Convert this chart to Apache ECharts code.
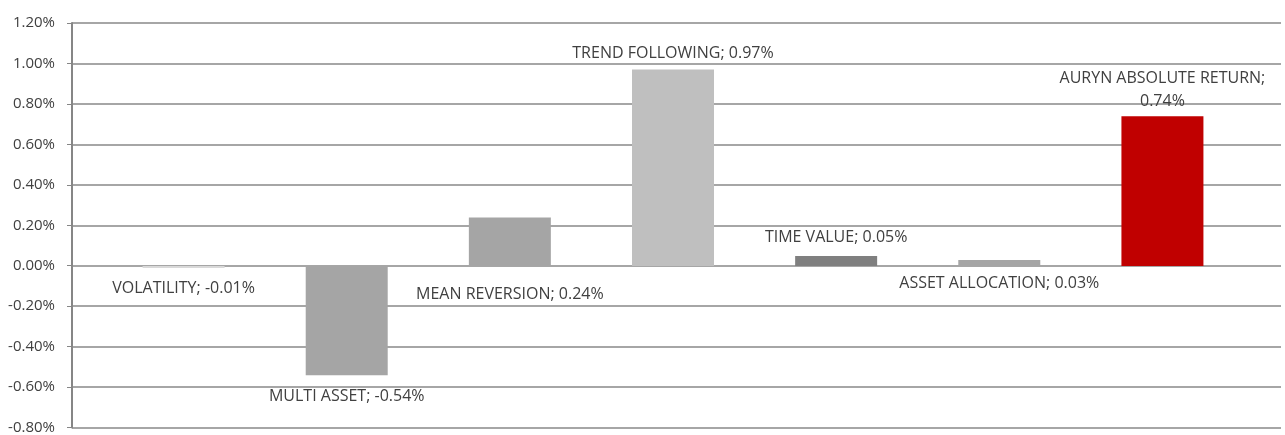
<!DOCTYPE html>
<html>
<head>
<meta charset="utf-8">
<script src="https://cdn.jsdelivr.net/npm/echarts@6/dist/echarts.min.js"></script>
<style>html,body{margin:0;padding:0;background:#fff;}#c{width:1285px;height:435px;}</style>
</head>
<body>
<div id="c"></div>
<script>
const categories = ['VOLATILITY', 'MULTI ASSET', 'MEAN REVERSION', 'TREND FOLLOWING', 'TIME VALUE', 'ASSET ALLOCATION', 'AURYN ABSOLUTE RETURN'];
const values = [-0.01, -0.54, 0.24, 0.97, 0.05, 0.03, 0.74];
const barColors = ['#d9d9d9', '#a5a5a5', '#a5a5a5', '#bfbfbf', '#7f7f7f', '#a5a5a5', '#c00000'];
const labelPositions = ['bottom', 'bottom', 'bottom', 'top', 'top', 'bottom', 'top'];
const labelDistances = [10, 11, 18, 6, 8, 7, 3];
const labelBreaks = [false, false, false, false, false, false, true];
const yTicks = { min: -0.8, max: 1.2, interval: 0.2 };

const font = 'Open Sans';
const textColor = '#404040';

const data = values.map((v, i) => ({
  value: v,
  itemStyle: { color: barColors[i] },
  label: {
    show: true,
    position: labelPositions[i],
    distance: labelDistances[i],
    formatter: categories[i] + ';' + (labelBreaks[i] ? '\n' : ' ') + v.toFixed(2) + '%',
    color: textColor,
    fontFamily: font,
    fontSize: 16,
    lineHeight: labelBreaks[i] ? 23 : 20,
    align: 'center'
  }
}));

const chart = echarts.init(document.getElementById('c'), null, { renderer: 'canvas' });
chart.setOption({
  animation: false,
  backgroundColor: '#ffffff',
  grid: [
    { left: 72, right: 4, top: 23, bottom: 7, containLabel: false },
    { left: 102, right: 41, top: 23, bottom: 7, containLabel: false }
  ],
  xAxis: [
    { gridIndex: 0, type: 'value', min: 0, max: 1, show: false },
    { gridIndex: 1, type: 'category', data: categories, show: false }
  ],
  yAxis: [
    {
      gridIndex: 0, type: 'value', min: yTicks.min, max: yTicks.max, interval: yTicks.interval,
      axisLine: { show: true, lineStyle: { color: '#868686', width: 2 } },
      axisTick: { show: true, length: 5, lineStyle: { color: '#868686', width: 1 } },
      axisLabel: {
        color: textColor, fontFamily: font, fontSize: 15, margin: 17,
        formatter: v => v.toFixed(2) + '%'
      },
      splitLine: { show: true, lineStyle: { color: '#a6a6a6', width: 2 } }
    },
    { gridIndex: 1, type: 'value', min: yTicks.min, max: yTicks.max, interval: yTicks.interval, show: false, splitLine: { show: false } }
  ],
  series: [
    {
      type: 'bar', xAxisIndex: 1, yAxisIndex: 1,
      data: data,
      barWidth: 82,
      z: 3
    }
  ]
});
</script>
</body>
</html>
